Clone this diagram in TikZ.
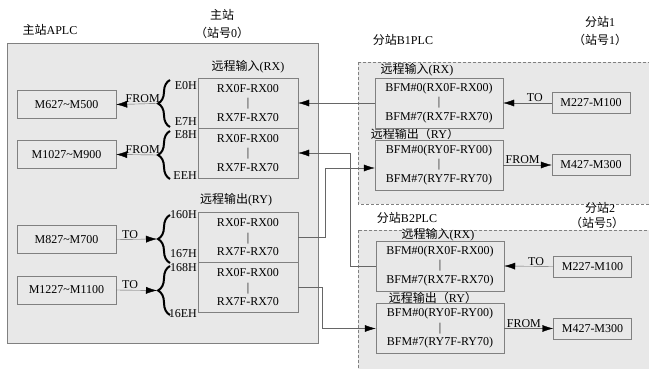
\documentclass[tikz,border=0pt]{standalone}
\usepackage{fontspec}
\setmainfont{Liberation Serif}
\newfontfamily\cjk{Noto Sans CJK SC}
\newcommand{\zh}[1]{{\cjk #1}}
\usetikzlibrary{arrows.meta,decorations.pathreplacing}

\begin{document}
\begin{tikzpicture}[x=1pt, y=-1pt,
  every node/.style={font=\fontsize{12}{14.5}\selectfont, inner sep=1pt},
  area/.style={draw=gray, fill=gray!18},
  sub/.style={draw=gray, fill=gray!18, dash pattern=on 3pt off 2pt},
  dev/.style={draw=gray, fill=gray!18, minimum width=99pt, minimum height=28pt},
  mem/.style={draw=gray, fill=gray!18, minimum width=78pt, minimum height=21pt},
  reg/.style={draw=gray, fill=gray!18, minimum width=100pt, minimum height=50pt, align=center},
  buf/.style={draw=gray, fill=gray!18, minimum width=128pt, minimum height=50pt, align=center},
  link/.style={draw=gray!80!black, -{Latex[length=11pt,width=7pt,color=black]}},
  brc/.style={decorate, decoration={brace, amplitude=12pt}, line width=2pt}]
  \clip (0,0) rectangle (649,369);

  % stations
  \draw[area] (7,43) rectangle (318,343);
  \draw[sub] (358,62) rectangle (660,204);
  \draw[sub] (358,230) rectangle (660,380);

  \node (tA) at (50,30) {\zh{主站}APLC};
  \node (tA1) at (222,15) {\zh{主站}};
  \node (tA2) at (222,33) {\zh{（站号}0\zh{）}};
  \node (tB1) at (403,40) {\zh{分站}B1PLC};
  \node (tB11) at (600,22) {\zh{分站}1};
  \node (tB12) at (600,40) {\zh{（站号}1\zh{）}};
  \node (tB2) at (407,218) {\zh{分站}B2PLC};
  \node (tB21) at (600,208) {\zh{分站}2};
  \node (tB22) at (597,223) {\zh{（站号}5\zh{）}};

  % master
  \node (lrx) at (248,67) {\zh{远程输入}(RX)};
  \node (lry) at (236,200) {\zh{远程输出}(RY)};
  \node[reg] (rx1) at (248,103) {RX0F-RX00\\|\\RX7F-RX70};
  \node[reg] (rx2) at (248,153) {RX0F-RX00\\|\\RX7F-RX70};
  \node[reg] (ry1) at (248,237.5) {RX0F-RX00\\|\\RX7F-RX70};
  \node[reg] (ry2) at (248,287.5) {RX0F-RX00\\|\\RX7F-RX70};

  \node[dev] (m1) at (66.5,104.5) {M627\textasciitilde M500};
  \node[dev] (m2) at (66.5,154.5) {M1027\textasciitilde M900};
  \node[dev] (m3) at (66.5,239.5) {M827\textasciitilde M700};
  \node[dev] (m4) at (66.5,290) {M1227\textasciitilde M1100};

  \draw[brc] (170,127) -- (170,80);
  \draw[brc] (170,179) -- (170,131);
  \draw[brc] (170,263) -- (170,215);
  \draw[brc] (170,315) -- (170,266);
  \coordinate (b1) at (157,103.5);
  \coordinate (b2) at (157,155);
  \coordinate (b3) at (157,239);
  \coordinate (b4) at (157,290.5);

  \node[anchor=east] (a0) at (198,86) {E0H};
  \node[anchor=east] (a7) at (198,122) {E7H};
  \node[anchor=east] (a8) at (198,135) {E8H};
  \node[anchor=east] (ae) at (198,176) {EEH};
  \node[anchor=east] (c0) at (198,215) {160H};
  \node[anchor=east] (c7) at (198,254) {167H};
  \node[anchor=east] (c8) at (198,268) {168H};
  \node[anchor=east] (ce) at (198,314) {16EH};

  \draw[link] (b1) -- node[pos=0.35, above] (f1) {FROM} (m1.east);
  \draw[link] (b2) -- node[pos=0.35, above] (f2) {FROM} (m2.east);
  \draw[link] (m3.east) -- node[pos=0.34, above] (o1) {TO} (b3);
  \draw[link] (m4.east) -- node[pos=0.34, above] (o2) {TO} (b4);

  % slave 1
  \node (l1rx) at (417,70) {\zh{远程输入}(RX)};
  \node (l1ry) at (415,134) {\zh{远程输出（}RY\zh{）}};
  \node[buf] (s1rx) at (439,103) {BFM\#0(RX0F-RX00)\\|\\BFM\#7(RX7F-RX70)};
  \node[buf] (s1ry) at (439,165) {BFM\#0(RY0F-RY00)\\|\\BFM\#7(RY7F-RY70)};
  \node[mem] (s1m1) at (591,103) {M227-M100};
  \node[mem] (s1m2) at (591,165) {M427-M300};
  \draw[link] (s1m1.west) -- node[pos=0.35, above] (o3) {TO} (s1rx.east);
  \draw[link] (s1ry.east) -- node[pos=0.4, above] (f3) {FROM} (s1m2.west);

  % slave 2
  \node (l2rx) at (438,235) {\zh{远程输入}(RX)};
  \node (l2ry) at (433,298) {\zh{远程输出（}RY\zh{）}};
  \node[buf] (s2rx) at (440,266) {BFM\#0(RX0F-RX00)\\|\\BFM\#7(RX7F-RX70)};
  \node[buf] (s2ry) at (440,328.5) {BFM\#0(RY0F-RY00)\\|\\BFM\#7(RY7F-RY70)};
  \node[mem] (s2m1) at (592.5,266.5) {M227-M100};
  \node[mem] (s2m2) at (592.5,328.5) {M427-M300};
  \draw[link] (s2m1.west) -- node[pos=0.35, above] (o4) {TO} (s2rx.east);
  \draw[link] (s2ry.east) -- node[pos=0.4, above] (f4) {FROM} (s2m2.west);

  % network
  \draw[link] (s1rx.west) -- (rx1.east);
  \draw[link] (s2rx.west) -- ++(-26,0) |- (rx2.east);
  \draw[link] (ry1.east) -- ++(27,0) |- ([yshift=-3pt]s1ry.west);
  \draw[link] (ry2.east) -- ++(24,0) |- (s2ry.west);
\end{tikzpicture}
\end{document}
